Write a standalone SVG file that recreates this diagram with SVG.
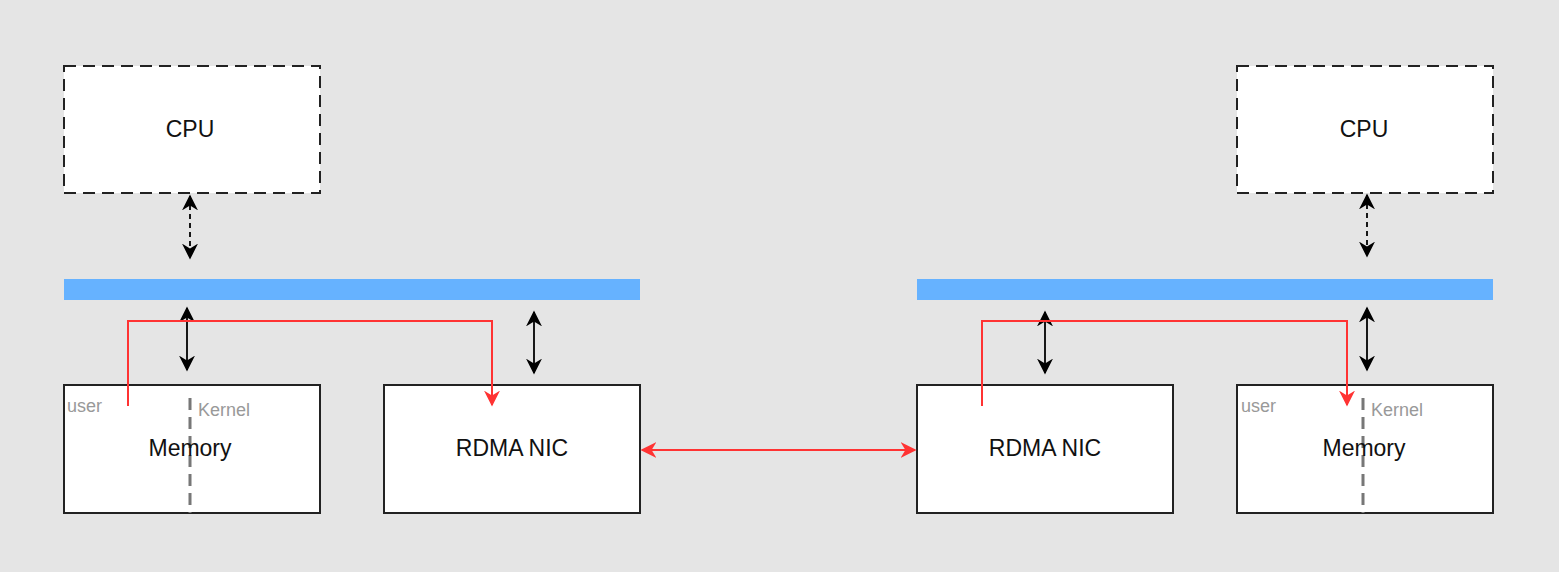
<svg xmlns="http://www.w3.org/2000/svg" width="1559" height="572" viewBox="0 0 1559 572">
<style>
.box{fill:#fff;stroke:#222;stroke-width:2}
.cpu{fill:#fff;stroke:#222;stroke-width:2;stroke-dasharray:12 7}
.bus{fill:#66b2ff}
.t{font-family:"Liberation Sans",Arial,sans-serif;font-size:23px;fill:#111;text-anchor:middle}
.s{font-family:"Liberation Sans",Arial,sans-serif;font-size:18px;fill:#999}
.div{stroke:#777;stroke-width:3;stroke-dasharray:12 7}
.bk{stroke:#000;stroke-width:1.8;fill:none;marker-start:url(#ab);marker-end:url(#ab)}
.bkd{stroke:#000;stroke-width:1.8;fill:none;stroke-dasharray:5 4;marker-start:url(#ab);marker-end:url(#ab)}
.rd{stroke:#f33;stroke-width:2;fill:none}
</style>
<defs>
<marker id="ab" viewBox="0 0 10 10" refX="9" refY="5" markerWidth="16" markerHeight="16" markerUnits="userSpaceOnUse" orient="auto-start-reverse"><path d="M0,0 L10,5 L0,10 L3,5 z" fill="#000"/></marker>
<marker id="ar" viewBox="0 0 10 10" refX="9" refY="5" markerWidth="16" markerHeight="16" markerUnits="userSpaceOnUse" orient="auto-start-reverse"><path d="M0,0 L10,5 L0,10 L3,5 z" fill="#f33"/></marker>
</defs>
<rect width="1559" height="572" fill="#e5e5e5"/>
<g id="cpu-left"><rect class="cpu" x="64" y="66" width="256" height="127"/><text class="t" x="190" y="137">CPU</text></g>
<g id="bus-left"><rect class="bus" x="64" y="279" width="576" height="21"/></g>
<g id="memory-left"><rect class="box" x="64" y="385" width="256" height="128"/><line class="div" x1="190" y1="398" x2="190" y2="513"/><text class="s" x="67" y="412">user</text><text class="s" x="198" y="416">Kernel</text><text class="t" x="190" y="456">Memory</text></g>
<g id="nic-left"><rect class="box" x="384" y="385" width="256" height="128"/><text class="t" x="512" y="456">RDMA NIC</text></g>
<g id="cpu-right"><rect class="cpu" x="1237" y="66" width="256" height="127"/><text class="t" x="1364" y="137">CPU</text></g>
<g id="bus-right"><rect class="bus" x="917" y="279" width="576" height="21"/></g>
<g id="nic-right"><rect class="box" x="917" y="385" width="256" height="128"/><text class="t" x="1045" y="456">RDMA NIC</text></g>
<g id="memory-right"><rect class="box" x="1237" y="385" width="256" height="128"/><line class="div" x1="1363" y1="398" x2="1363" y2="513"/><text class="s" x="1241" y="412">user</text><text class="s" x="1371" y="416">Kernel</text><text class="t" x="1364" y="456">Memory</text></g>
<g id="connectors">
<line class="bkd" x1="190" y1="196" x2="190" y2="258"/>
<line class="bk" x1="187" y1="308" x2="187" y2="370"/>
<line class="bk" x1="534" y1="312" x2="534" y2="373"/>
<line class="bk" x1="1045" y1="312" x2="1045" y2="373"/>
<line class="bk" x1="1367" y1="308" x2="1367" y2="370"/>
<line class="bkd" x1="1367" y1="195" x2="1367" y2="256"/>
<path class="rd" d="M128,406 V321 H492 V405" marker-end="url(#ar)"/>
<path class="rd" d="M982,406 V321 H1347 V405" marker-end="url(#ar)"/>
<line class="rd" x1="642" y1="450" x2="915" y2="450" marker-start="url(#ar)" marker-end="url(#ar)"/>
</g>
</svg>
